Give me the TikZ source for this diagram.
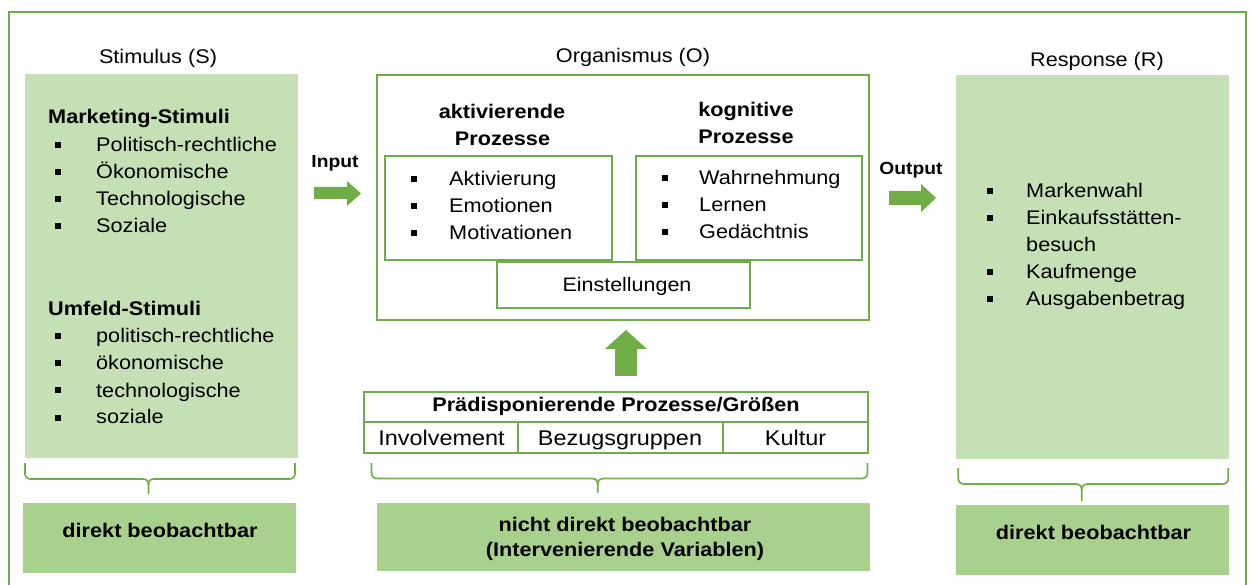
\documentclass[tikz,border=0pt]{standalone}
\usepackage{fontspec}
\setmainfont{Liberation Sans}[FakeStretch=1.1]
\definecolor{gr}{HTML}{70AD47}
\definecolor{lightg}{HTML}{C5E0B4}
\definecolor{darkg}{HTML}{A9D18E}
\tikzset{
 txt/.style={inner sep=0pt, anchor=base, font=\fontsize{19.7}{24}\selectfont},
 txtl/.style={txt, anchor=base west},
 btxt/.style={txt, font=\fontsize{19.7}{24}\selectfont\bfseries},
 btxtl/.style={btxt, anchor=base west},
 rowtxt/.style={txt, font=\fontsize{21.3}{24}\selectfont},
 smbtxt/.style={txt, font=\fontsize{17.5}{20}\selectfont\bfseries},
 bul/.style={fill=black, minimum size=6pt, inner sep=0pt, draw=none},
 gbox/.style={draw=gr, line width=2pt, inner sep=0pt, fill=white},
 lbox/.style={fill=lightg, inner sep=0pt},
 dbox/.style={fill=darkg, inner sep=0pt},
 bracepath/.style={draw=gr, line width=1.7pt},
 frame/.style={draw=gr, line width=1.2pt},
}
\begin{document}
\begin{tikzpicture}[x=1pt,y=-1pt]
\useasboundingbox (0,0) rectangle (1251,585);
\draw[frame] (9,585) -- (9,12) -- (1246,12) -- (1246,585);

% ---------- Stimulus ----------
\node[lbox, minimum width=273pt, minimum height=384pt] (sbox) at (161.5,266) {};
\node[txt] (stitle) at (158,64) {Stimulus (S)};
\node[btxtl] (mhead) at (48,124) {Marketing-Stimuli};
\foreach \t [count=\i] in {Politisch-rechtliche, Ökonomische, Technologische, Soziale} {
  \node[txtl] (m\i) at (96,125+27*\i) {\t};
  \node[bul] (mb\i) at (57.5,118.5+27*\i) {};
}
\node[btxtl] (uhead) at (48,316) {Umfeld-Stimuli};
\foreach \t [count=\i] in {politisch-rechtliche, ökonomische, technologische, soziale} {
  \node[txtl] (u\i) at (96,316+27*\i) {\t};
  \node[bul] (ub\i) at (57.5,309.5+27*\i) {};
}

% ---------- Response ----------
\node[lbox, minimum width=272.5pt, minimum height=384pt] (rbox) at (1092.25,267) {};
\node[txt] (rtitle) at (1097,67) {Response (R)};
\node[txtl] (r1) at (1026,198) {Markenwahl};
\node[txtl] (r2) at (1026,225) {Einkaufsstätten-};
\node[txtl] (r3) at (1026,252) {besuch};
\node[txtl] (r4) at (1026,279) {Kaufmenge};
\node[txtl] (r5) at (1026,306) {Ausgabenbetrag};
\node[bul] (rb1) at (990,191.5) {};
\node[bul] (rb2) at (990,218.5) {};
\node[bul] (rb4) at (990,272.5) {};
\node[bul] (rb5) at (990,299.5) {};

% ---------- Organismus ----------
\node[txt] (otitle) at (633,63) {Organismus (O)};
\node[gbox, minimum width=492pt, minimum height=245pt] (obox) at (623,197.5) {};
\node[gbox, minimum width=226.7pt, minimum height=103.4pt] (abox) at (498.3,208) {};
\node[gbox, minimum width=226pt, minimum height=103.4pt] (kbox) at (749,208) {};
\node[gbox, minimum width=252.7pt, minimum height=46.6pt] (ebox) at (623.3,285) {};
\node[btxt] (ah1) at (502,119) {aktivierende};
\node[btxt] (ah2) at (502.5,146) {Prozesse};
\node[btxt] (kh1) at (746,117) {kognitive};
\node[btxt] (kh2) at (746,143.5) {Prozesse};
\foreach \t [count=\i] in {Aktivierung, Emotionen, Motivationen} {
  \node[txtl] (a\i) at (449,159+27*\i) {\t};
  \node[bul] (ab\i) at (414,152.5+27*\i) {};
}
\foreach \t [count=\i] in {Wahrnehmung, Lernen, Gedächtnis} {
  \node[txtl] (k\i) at (699,158+27*\i) {\t};
  \node[bul] (kb\i) at (665,151.5+27*\i) {};
}
\node[txt, font=\fontsize{19.5}{24}\selectfont] (etxt) at (627,291.7) {Einstellungen};

% ---------- block arrows ----------
\fill[gr] (314,187) -- (347,187) -- (347,181) -- (361,193.5) -- (347,206) -- (347,199) -- (314,199) -- cycle;
\node[smbtxt] (input) at (335,168) {Input};
\fill[gr] (889,191) -- (921,191) -- (921,184) -- (936,198) -- (921,212) -- (921,205) -- (889,205) -- cycle;
\node[smbtxt] (output) at (911,175) {Output};
\fill[gr] (615,376) -- (615,349) -- (605,349) -- (626,330) -- (647,349) -- (637,349) -- (637,376) -- cycle;

% ---------- Praedisponierende table ----------
\node[gbox, minimum width=503.7pt, minimum height=30.3pt] (ptitle) at (616.2,407.2) {};
\node[gbox, minimum width=153.4pt, minimum height=31pt] (pc1) at (441,437.8) {};
\node[gbox, minimum width=205pt, minimum height=31pt] (pc2) at (620.2,437.8) {};
\node[gbox, minimum width=145.3pt, minimum height=31pt] (pc3) at (795.35,437.8) {};
\node[btxt] (pt) at (616,411.7) {Prädisponierende Prozesse/Größen};
\node[rowtxt] (p1) at (441.5,445) {Involvement};
\node[rowtxt] (p2) at (620,445) {Bezugsgruppen};
\node[rowtxt] (p3) at (795.5,445) {Kultur};

% ---------- braces ----------
\draw[bracepath] (25,463) -- (25,473) .. controls (25,477) and (27,479) .. (31,479) -- (142.5,479)
  .. controls (147,479) and (148.5,481) .. (148.5,485) -- (148.5,494);
\draw[bracepath] (148.5,485) .. controls (148.5,481) and (150,479) .. (154.5,479) -- (289,479)
  .. controls (293,479) and (295,477) .. (295,473) -- (295,463);
\draw[bracepath] (371.5,463) -- (371.5,472.5) .. controls (371.5,476.5) and (373.5,478.5) .. (377.5,478.5) -- (591.5,478.5)
  .. controls (596,478.5) and (597.7,480.5) .. (597.7,484.5) -- (597.7,492.5);
\draw[bracepath] (597.7,484.5) .. controls (597.7,480.5) and (599.5,478.5) .. (604,478.5) -- (861.5,478.5)
  .. controls (865.5,478.5) and (867.5,476.5) .. (867.5,472.5) -- (867.5,463);
\draw[bracepath] (958.3,468) -- (958.3,478) .. controls (958.3,482) and (960.3,484) .. (964.3,484) -- (1075.5,484)
  .. controls (1080,484) and (1081.7,486) .. (1081.7,490) -- (1081.7,501);
\draw[bracepath] (1081.7,490) .. controls (1081.7,486) and (1083.5,484) .. (1088,484) -- (1222.3,484)
  .. controls (1226.3,484) and (1228.3,482) .. (1228.3,478) -- (1228.3,468);

% ---------- bottom boxes ----------
\node[dbox, minimum width=273.3pt, minimum height=69.4pt] (sbot) at (159.35,538) {};
\node[btxt] (sbt) at (160,537) {direkt beobachtbar};
\node[dbox, minimum width=493pt, minimum height=68pt] (obot) at (623.5,537) {};
\node[btxt] (obt1) at (625,531) {nicht direkt beobachtbar};
\node[btxt] (obt2) at (625,556) {(Intervenierende Variablen)};
\node[dbox, minimum width=273.3pt, minimum height=69.4pt] (rbot) at (1092.65,540) {};
\node[btxt] (rbt) at (1093.5,539) {direkt beobachtbar};
\end{tikzpicture}
\end{document}
